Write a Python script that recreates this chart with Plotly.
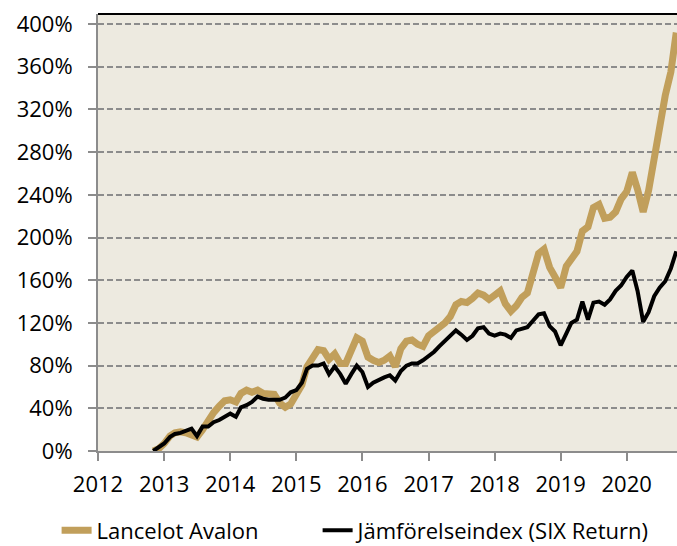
import pandas as pd
import plotly.graph_objects as go

# Monthly dates, Nov 2012 - Oct 2020
dates = pd.date_range("2012-11-01", periods=96, freq="MS")

lancelot = [
    0, 2, 7, 14, 17, 18, 17, 15, 13, 20, 29, 36,
    42, 47, 48, 46, 54, 57, 55, 57, 54, 53, 53, 45,
    41, 44, 52, 62, 79, 87, 95, 94, 86, 91, 82, 82,
    93, 106, 103, 88, 85, 83, 85, 89, 79, 96, 103, 104,
    100, 98, 108, 112, 115, 120, 126, 137, 140, 139, 143, 148,
    146, 142, 146, 150, 138, 131, 136, 144, 148, 165, 185, 189,
    172, 163, 153, 173, 181, 187, 206, 210, 228, 231, 218, 219,
    224, 236, 243, 261, 245, 224, 244, 275, 301, 333, 355, 392,
]

index_six = [
    0, 3, 7, 13, 16, 17, 19, 21, 14, 23, 23, 27,
    29, 32, 35, 32, 41, 43, 46, 51, 49, 48, 48, 48,
    50, 55, 57, 64, 77, 80, 80, 82, 72, 79, 72, 63,
    72, 80, 74, 60, 64, 67, 69, 71, 66, 75, 80, 82,
    82, 85, 89, 93, 98, 103, 109, 113, 109, 104, 108, 115,
    116, 110, 108, 110, 109, 106, 113, 115, 116, 122, 128, 129,
    117, 112, 99, 110, 120, 123, 140, 123, 139, 140, 137, 142,
    150, 155, 163, 169, 150, 121, 130, 145, 153, 159, 171, 187,
]

series_names = ["Lancelot Avalon", "Jämförelseindex (SIX Return)"]
y_ticks = list(range(0, 401, 40))
y_tick_labels = [f"{v}%" for v in y_ticks]
x_ticks = [f"{y}-01-01" for y in range(2012, 2021)]
x_tick_labels = [str(y) for y in range(2012, 2021)]

GOLD = "#C19F5B"
BG = "#EDEAE0"
GRID = "#8C8C8C"
AXIS = "#8C8C8C"
FONT = "'Open Sans', Lato, 'Liberation Sans', sans-serif"

fig = go.Figure()
fig.add_trace(go.Scatter(
    x=dates, y=lancelot, mode="lines", name=series_names[0],
    line=dict(color=GOLD, width=7), legend="legend",
))
fig.add_trace(go.Scatter(
    x=dates, y=index_six, mode="lines", name=series_names[1],
    line=dict(color="#000000", width=4), legend="legend2",
))

legend_common = dict(
    orientation="h", xanchor="left", yanchor="top", y=-0.134,
    bgcolor="rgba(0,0,0,0)",
    font=dict(family=FONT, size=22, color="#000000"),
    itemwidth=30,
)

fig.update_layout(
    width=677, height=546,
    margin=dict(l=98, r=0, t=14, b=95, autoexpand=False),
    paper_bgcolor="#FFFFFF",
    plot_bgcolor=BG,
    font=dict(family=FONT, size=22, color="#000000"),
    showlegend=True,
    legend=dict(x=-0.0715, **legend_common),
    legend2=dict(x=0.3793, **legend_common),
    xaxis=dict(
        type="date",
        range=["2012-01-01", "2020-10-05"],
        tickvals=x_ticks, ticktext=x_tick_labels,
        showgrid=False, zeroline=False,
        showline=True, linecolor=AXIS, linewidth=2,
        ticks="outside", ticklen=8, tickwidth=2, tickcolor=AXIS,
        ticklabelstandoff=5,
        tickfont=dict(family=FONT, size=22, color="#000000"),
    ),
    yaxis=dict(
        range=[0, 409.4],
        tickvals=y_ticks, ticktext=y_tick_labels,
        showgrid=True, gridcolor=GRID, gridwidth=2, griddash="6px,3px",
        zeroline=False,
        showline=True, linecolor=AXIS, linewidth=2,
        ticks="outside", ticklen=8, tickwidth=2, tickcolor=AXIS,
        ticklabelstandoff=11,
        tickfont=dict(family=FONT, size=22, color="#000000"),
    ),
    shapes=[dict(
        type="line", xref="paper", yref="paper",
        x0=0, x1=1, y0=1, y1=1,
        line=dict(color="#000000", width=2),
    )],
)

fig.write_html(
    "out.html",
    config={"displayModeBar": False},
    post_script="document.body.style.margin='0';document.body.style.overflow='hidden';",
)
